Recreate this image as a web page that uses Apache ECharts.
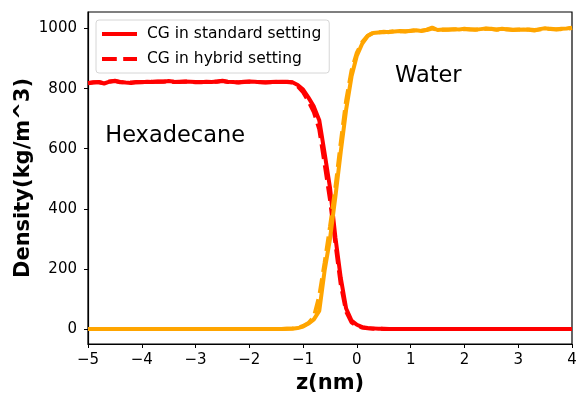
<!DOCTYPE html>
<html>
<head>
<meta charset="utf-8">
<script src="https://cdn.jsdelivr.net/npm/echarts@6/dist/echarts.min.js"></script>
<style>
html,body{margin:0;padding:0;background:#fff;}
#chart{width:578px;height:395px;}
</style>
</head>
<body>
<div id="chart"></div>
<script>
// z positions (nm)
const zValues = [
 -5.0,-4.9,-4.8,-4.7,-4.6,-4.5,-4.4,-4.3,-4.2,-4.1,
 -4.0,-3.9,-3.8,-3.7,-3.6,-3.5,-3.4,-3.3,-3.2,-3.1,
 -3.0,-2.9,-2.8,-2.7,-2.6,-2.5,-2.4,-2.3,-2.2,-2.1,
 -2.0,-1.9,-1.8,-1.7,-1.6,-1.5,-1.4,-1.3,-1.2,-1.1,
 -1.0,-0.9,-0.8,-0.7,-0.6,-0.5,-0.4,-0.3,-0.2,-0.1,
  0.0, 0.1, 0.2, 0.3, 0.4, 0.5, 0.6, 0.7, 0.8, 0.9,
  1.0, 1.1, 1.2, 1.3, 1.4, 1.5, 1.6, 1.7, 1.8, 1.9,
  2.0, 2.1, 2.2, 2.3, 2.4, 2.5, 2.6, 2.7, 2.8, 2.9,
  3.0, 3.1, 3.2, 3.3, 3.4, 3.5, 3.6, 3.7, 3.8, 3.9,
  4.0
];
// Hexadecane density, CG standard setting
const hexStandard = [
 818,820,822,817,823,826,822,820,819,822,
 821,823,822,824,823,825,823,822,824,823,
 822,821,823,822,824,826,823,822,820,822,
 824,823,821,820,822,823,822,823,821,812,
 797,770,740,695,585,470,305,170,68,28,
 14,6,3,2,1,1,0,0,0,0,
 0,0,0,0,0,0,0,0,0,0,
 0,0,0,0,0,0,0,0,0,0,
 0,0,0,0,0,0,0,0,0,0,
 0
];
// Hexadecane density, CG hybrid setting
const hexHybrid = [
 819,821,821,818,824,825,821,821,820,821,
 822,822,823,823,824,824,822,823,823,824,
 821,822,822,823,823,825,822,821,821,823,
 823,822,822,821,821,822,823,822,820,808,
 788,758,722,665,550,430,285,148,58,22,
 10,5,2,1,1,0,0,0,0,0,
 0,0,0,0,0,0,0,0,0,0,
 0,0,0,0,0,0,0,0,0,0,
 0,0,0,0,0,0,0,0,0,0,
 0
];
// Water density, CG standard setting
const waterStandard = [
 0,0,0,0,0,0,0,0,0,0,
 0,0,0,0,0,0,0,0,0,0,
 0,0,0,0,0,0,0,0,0,0,
 0,0,0,0,0,0,0,1,1,3,
 8,18,32,60,195,300,440,590,730,840,
 910,950,975,985,987,989,988,990,992,990,
 993,994,992,996,1003,995,997,996,998,997,
 999,997,996,998,1000,998,997,999,997,995,
 996,997,996,993,998,1001,998,997,999,1000,
 1003
];
// Water density, CG hybrid setting
const waterHybrid = [
 0,0,0,0,0,0,0,0,0,0,
 0,0,0,0,0,0,0,0,0,0,
 0,0,0,0,0,0,0,0,0,0,
 0,0,0,0,0,0,0,1,2,4,
 10,20,40,110,220,340,470,620,760,860,
 920,955,976,986,988,988,989,991,991,991,
 992,995,993,995,1000,996,996,997,997,998,
 998,998,997,997,999,999,996,998,998,996,
 997,996,997,995,997,1000,999,998,998,999,
 1002
];
const xTicks = [-5,-4,-3,-2,-1,0,1,2,3,4];
const yTicks = [0,200,400,600,800,1000];
const legendNames = ['CG in standard setting','CG in hybrid setting'];
const annotations = [
  {text:'Hexadecane', z:-4.68, rho:641},
  {text:'Water', z:0.71, rho:841}
];

const pair = (ys) => zValues.map((z,i) => [z, ys[i]]);
const FONT = 'DejaVu Sans';
const RED = '#ff0000', ORANGE = '#ffa500';
const DASH = [14.8, 6.4];

const chart = echarts.init(document.getElementById('chart'), null, {renderer:'canvas'});
const option = {
  animation:false,
  backgroundColor:'#fff',
  grid:{left:88,right:6,top:12,bottom:51,show:true,borderColor:'#000',borderWidth:1.2,
        containLabel:false, outerBoundsMode:'none'},
  legend:{
    data:[
      {name:legendNames[0]},
      {name:legendNames[1], lineStyle:{type:DASH}}
    ],
    orient:'vertical',
    left:96, top:20,
    padding:[6,8,6,4],
    itemGap:9,
    itemWidth:35, itemHeight:14,
    itemStyle:{opacity:0},
    lineStyle:{width:4},
    backgroundColor:'rgba(255,255,255,0.8)',
    borderColor:'#d6d6d6', borderWidth:1, borderRadius:3,
    textStyle:{fontFamily:FONT,fontSize:15.5,color:'#000',padding:[0,0,0,5]}
  },
  xAxis:{
    type:'value', min:-5, max:4, interval:1,
    name:'z(nm)', nameLocation:'middle', nameGap:29, nameMoveOverlap:false,
    nameTextStyle:{fontFamily:FONT,fontSize:21,fontWeight:'bold',color:'#000'},
    axisLine:{show:true,onZero:false,lineStyle:{color:'#000',width:1.2}},
    axisTick:{show:true,inside:false,length:4,lineStyle:{color:'#000',width:1},customValues:xTicks},
    axisLabel:{fontFamily:FONT,fontSize:15,color:'#000',margin:9,customValues:xTicks,
      formatter:(v)=>String(v).replace('-','\u2212')},
    splitLine:{show:false}
  },
  yAxis:{
    type:'value', min:-50, max:1055,
    name:'Density(kg/m^3)', nameLocation:'middle', nameGap:54, nameMoveOverlap:false,
    nameTextStyle:{fontFamily:FONT,fontSize:21,fontWeight:'bold',color:'#000'},
    axisLine:{show:true,onZero:false,lineStyle:{color:'#000',width:1.2}},
    axisTick:{show:true,inside:false,length:4,lineStyle:{color:'#000',width:1},customValues:yTicks},
    axisLabel:{fontFamily:FONT,fontSize:15,color:'#000',margin:11,customValues:yTicks,
      formatter:(v)=>String(v)},
    splitLine:{show:false}
  },
  series:[
    {name:legendNames[0],type:'line',data:pair(hexStandard),symbol:'none',
     lineStyle:{color:RED,width:4},itemStyle:{color:RED}},
    {name:legendNames[1],type:'line',data:pair(hexHybrid),symbol:'none',
     lineStyle:{color:RED,width:4,type:DASH},itemStyle:{color:RED}},
    {name:'water-standard',type:'line',data:pair(waterStandard),symbol:'none',
     lineStyle:{color:ORANGE,width:4},itemStyle:{color:ORANGE}},
    {name:'water-hybrid',type:'line',data:pair(waterHybrid),symbol:'none',
     lineStyle:{color:ORANGE,width:4,type:DASH},itemStyle:{color:ORANGE}}
  ]
};
chart.setOption(option);

// Text annotations placed in data coordinates
const graphics = annotations.map(a => {
  const p = chart.convertToPixel({gridIndex:0},[a.z,a.rho]);
  return {type:'text', x:p[0], y:p[1],
    style:{text:a.text, fill:'#000', font:'22.5px "DejaVu Sans"', textAlign:'left', textVerticalAlign:'middle'}};
});
chart.setOption({graphic:graphics});
</script>
</body>
</html>
